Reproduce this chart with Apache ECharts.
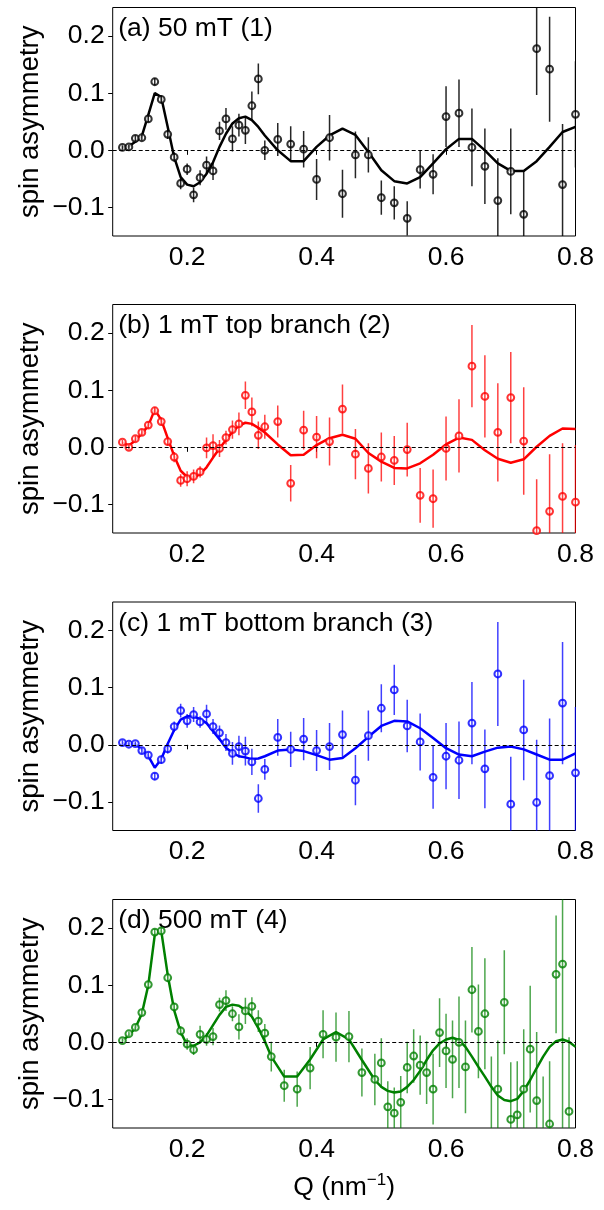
<!DOCTYPE html>
<html>
<head>
<meta charset="utf-8">
<script src="https://cdn.jsdelivr.net/npm/echarts@6/dist/echarts.min.js"></script>
<style>
  html, body { margin: 0; padding: 0; background: #fff; }
  #chart { width: 604px; height: 1210px; }
</style>
</head>
<body>
<div id="chart"></div>
<script>
// Q values (nm^-1) shared by panels a, b, c
const qABC = [0.10,0.11,0.12,0.13,0.14,0.15,0.16,0.17,0.18,0.19,0.20,0.21,0.22,0.23,0.24,0.25,0.26,0.27,0.28,0.29,0.30,0.31,0.32,
  0.34,0.36,0.38,0.40,0.42,0.44,0.46,0.48,0.50,0.52,0.54,0.56,0.58,0.60,0.62,0.64,0.66,0.68,0.70,0.72,0.74,0.76,0.78,0.80];

// (a) 50 mT
const asymA = [0.005,0.006,0.021,0.022,0.055,0.120,0.089,0.028,-0.012,-0.058,-0.033,-0.078,-0.048,-0.026,-0.036,0.034,0.055,0.020,0.044,0.035,0.078,0.125,0.000,
  0.019,0.011,0.002,-0.051,0.022,-0.076,-0.008,-0.008,-0.083,-0.092,-0.119,-0.034,-0.042,0.059,0.065,0.005,-0.028,-0.088,-0.037,-0.112,0.178,0.142,-0.060,0.063];
const errA = [0.004,0.004,0.005,0.005,0.006,0.006,0.007,0.008,0.008,0.010,0.010,0.013,0.013,0.015,0.016,0.016,0.019,0.022,0.020,0.024,0.025,0.027,0.017,
  0.029,0.031,0.032,0.036,0.040,0.042,0.041,0.031,0.030,0.029,0.030,0.033,0.035,0.053,0.059,0.068,0.066,0.074,0.075,0.077,0.081,0.092,0.106,0.093];
const fitA = [0.005,0.007,0.015,0.025,0.062,0.100,0.093,0.041,-0.012,-0.047,-0.060,-0.063,-0.056,-0.041,-0.021,0.006,0.029,0.047,0.056,0.059,0.053,0.041,0.026,
  0.000,-0.019,-0.019,0.006,0.026,0.038,0.027,-0.003,-0.035,-0.054,-0.058,-0.047,-0.023,0.002,0.020,0.020,0.000,-0.023,-0.036,-0.036,-0.019,0.006,0.032,0.041];

// (b) 1 mT top branch
const asymB = [0.009,0.000,0.015,0.026,0.039,0.064,0.045,0.010,-0.017,-0.058,-0.055,-0.051,-0.043,-0.001,0.003,-0.002,0.017,0.031,0.041,0.091,0.062,0.021,0.036,
  0.045,-0.063,0.030,0.018,0.010,0.067,-0.012,-0.037,-0.017,-0.023,-0.004,-0.084,-0.090,-0.002,0.020,0.142,0.089,0.026,0.087,0.011,-0.146,-0.112,-0.086,-0.096];
const errB = [0.004,0.004,0.005,0.005,0.006,0.006,0.007,0.007,0.009,0.011,0.013,0.012,0.010,0.018,0.020,0.015,0.012,0.016,0.020,0.024,0.025,0.024,0.021,
  0.028,0.032,0.034,0.037,0.042,0.043,0.044,0.044,0.043,0.043,0.047,0.048,0.051,0.056,0.064,0.072,0.072,0.086,0.080,0.094,0.090,0.100,0.093,0.100];
const fitB = [0.008,0.003,0.012,0.024,0.038,0.066,0.048,0.016,-0.015,-0.041,-0.052,-0.053,-0.047,-0.035,-0.018,-0.002,0.013,0.027,0.038,0.043,0.041,0.034,0.026,
  0.005,-0.014,-0.013,0.004,0.016,0.022,0.015,-0.010,-0.025,-0.036,-0.037,-0.028,-0.013,0.005,0.017,0.013,-0.005,-0.020,-0.027,-0.021,0.001,0.020,0.033,0.032];

// (c) 1 mT bottom branch
const asymC = [0.004,0.001,0.002,-0.010,-0.018,-0.055,-0.026,-0.007,0.032,0.060,0.042,0.053,0.040,0.054,0.032,0.021,0.004,-0.015,-0.003,-0.011,-0.030,-0.094,-0.043,
  0.013,-0.008,0.010,-0.010,-0.003,0.018,-0.062,0.016,0.064,0.096,0.033,0.005,-0.057,-0.020,-0.027,0.038,-0.042,0.124,-0.104,0.026,-0.101,-0.054,0.073,-0.049];
const errC = [0.004,0.004,0.004,0.005,0.005,0.006,0.007,0.008,0.009,0.012,0.012,0.013,0.010,0.016,0.013,0.013,0.015,0.020,0.019,0.025,0.023,0.025,0.018,
  0.032,0.031,0.037,0.036,0.041,0.042,0.044,0.044,0.042,0.044,0.046,0.050,0.055,0.058,0.068,0.072,0.069,0.091,0.083,0.088,0.110,0.100,0.107,0.115];
const fitC = [0.003,0.001,0.001,-0.008,-0.020,-0.040,-0.025,0.002,0.026,0.044,0.050,0.050,0.045,0.038,0.024,0.010,-0.005,-0.014,-0.020,-0.022,-0.025,-0.024,-0.020,
  -0.010,-0.008,-0.011,-0.018,-0.026,-0.023,-0.006,0.014,0.033,0.042,0.041,0.029,0.012,-0.006,-0.017,-0.020,-0.012,-0.005,-0.003,-0.008,-0.017,-0.026,-0.026,-0.015];

// (d) 500 mT
const qD = [0.10,0.11,0.12,0.13,0.14,0.15,0.16,0.17,0.18,0.19,0.20,0.21,0.22,0.23,0.24,0.25,0.26,0.27,0.28,0.29,0.30,0.31,0.32,0.33,
  0.35,0.37,0.39,0.41,0.43,0.45,0.47,0.49,
  0.50,0.51,0.52,0.53,0.54,0.55,0.56,0.57,0.58,0.59,0.60,0.61,0.62,0.63,0.64,0.65,0.66,0.67,0.68,0.69,0.70,0.71,0.72,0.73,0.74,0.75,0.76,0.77,0.78,0.79];
const asymD = [0.003,0.015,0.026,0.052,0.101,0.193,0.195,0.113,0.062,0.020,-0.003,-0.013,0.014,0.005,0.010,0.066,0.073,0.050,0.027,0.055,0.063,0.037,0.016,-0.025,
  -0.076,-0.082,-0.045,0.014,0.009,0.010,-0.053,-0.065,
  -0.036,-0.113,-0.124,-0.105,-0.044,-0.024,-0.040,-0.053,-0.082,0.017,-0.015,-0.030,0.000,-0.043,0.092,0.019,0.050,-0.170,-0.082,0.070,-0.135,-0.127,-0.082,-0.012,-0.102,-0.180,-0.143,0.119,0.137,-0.121];
const errD = [0.004,0.004,0.005,0.005,0.006,0.006,0.006,0.007,0.007,0.008,0.010,0.009,0.015,0.011,0.015,0.012,0.018,0.013,0.022,0.023,0.016,0.019,0.016,0.026,
  0.028,0.031,0.037,0.042,0.043,0.045,0.042,0.045,
  0.043,0.045,0.045,0.046,0.045,0.047,0.052,0.055,0.062,0.060,0.065,0.068,0.080,0.081,0.075,0.082,0.097,0.145,0.085,0.091,0.100,0.094,0.105,0.111,0.120,0.120,0.110,0.103,0.290,0.130];
const qFitD = qD.concat([0.80]);
const fitD = [0.003,0.012,0.025,0.050,0.100,0.188,0.195,0.118,0.056,0.018,-0.005,-0.006,0.000,0.012,0.030,0.048,0.062,0.066,0.064,0.056,0.045,0.025,0.002,-0.025,
  -0.060,-0.060,-0.030,0.005,0.018,0.005,-0.031,-0.066,
  -0.078,-0.085,-0.088,-0.086,-0.078,-0.066,-0.050,-0.031,-0.014,-0.002,0.005,0.008,0.004,-0.008,-0.025,-0.043,-0.060,-0.078,-0.093,-0.101,-0.103,-0.099,-0.085,-0.066,-0.045,-0.025,-0.008,0.002,0.005,0.001,
  -0.008];

const yTicks = [-0.1, 0, 0.1, 0.2];
const xTicks = [0.2, 0.4, 0.6, 0.8];

const panels = [
  { label: '(a) 50 mT (1)', q: qABC, y: asymA, err: errA, fq: qABC, fit: fitA, color: '#000000', bar: 'rgba(0,0,0,0.85)', top: 7.5 },
  { label: '(b) 1 mT top branch (2)', q: qABC, y: asymB, err: errB, fq: qABC, fit: fitB, color: '#ff0000', bar: 'rgba(255,0,0,0.75)', top: 304.5 },
  { label: '(c) 1 mT bottom branch (3)', q: qABC, y: asymC, err: errC, fq: qABC, fit: fitC, color: '#0000ff', bar: 'rgba(0,0,255,0.75)', top: 602 },
  { label: '(d) 500 mT (4)', q: qD, y: asymD, err: errD, fq: qFitD, fit: fitD, color: '#008000', bar: 'rgba(0,128,0,0.7)', top: 899.5 }
];

const FONT = 'Liberation Sans, Arial, sans-serif';
const FS = 26.5;
const GRID_LEFT = 112.7, GRID_RIGHT = 28.5, GRID_H = 228.5;

const chart = echarts.init(document.getElementById('chart'), null, { renderer: 'canvas' });

const grid = [], xAxis = [], yAxis = [], series = [], graphic = [];

panels.forEach(function (p, i) {
  const last = i === panels.length - 1;
  grid.push({
    left: GRID_LEFT, right: GRID_RIGHT, top: p.top, height: GRID_H,
    show: true, borderColor: '#000', borderWidth: 1, backgroundColor: 'transparent',
    outerBoundsMode: 'none'
  });
  xAxis.push({
    type: 'value', gridIndex: i, min: 0.085, max: 0.8,
    axisLine: { show: false },
    splitLine: { show: false },
    axisTick: { show: true, customValues: xTicks, length: 4.5, lineStyle: { color: '#000', width: 1 } },
    axisLabel: {
      customValues: xTicks, margin: 8, color: '#000', fontSize: FS, fontFamily: FONT,
      formatter: function (v) { return v.toFixed(1); }
    },
    name: last ? '{n|Q (nm}{s|\u22121}{n|)}' : '',
    nameLocation: 'middle', nameGap: 44, nameMoveOverlap: false,
    nameTextStyle: {
      color: '#000', fontFamily: FONT,
      rich: {
        n: { fontSize: FS, lineHeight: 32, fontFamily: FONT, color: '#000' },
        s: { fontSize: 17, lineHeight: 17, verticalAlign: 'top', fontFamily: FONT, color: '#000' }
      }
    }
  });
  yAxis.push({
    type: 'value', gridIndex: i, min: -0.15, max: 0.25,
    axisLine: { show: false },
    splitLine: { show: false },
    axisTick: { show: true, customValues: yTicks, length: 4.5, lineStyle: { color: '#000', width: 1 } },
    axisLabel: {
      customValues: yTicks, margin: 8, color: '#000', fontSize: FS, fontFamily: FONT,
      formatter: function (v) { return v.toFixed(1).replace('-', '\u2212'); }
    },
    name: 'spin asymmetry', nameLocation: 'middle', nameRotate: 90, nameGap: 68,
    nameMoveOverlap: false,
    nameTextStyle: { color: '#000', fontSize: FS + 1, fontFamily: FONT }
  });

  // fit curve + dashed zero line
  series.push({
    type: 'line', xAxisIndex: i, yAxisIndex: i,
    data: p.fq.map(function (q, k) { return [q, p.fit[k]]; }),
    showSymbol: false, symbol: 'none', clip: true, z: 2,
    lineStyle: { color: p.color, width: 2.5 },
    markLine: {
      silent: true, symbol: ['none', 'none'], label: { show: false },
      lineStyle: { color: '#000', type: [4, 2.5], width: 1 },
      data: [{ yAxis: 0 }]
    }
  });
  // open circle markers
  series.push({
    type: 'scatter', xAxisIndex: i, yAxisIndex: i, clip: true, z: 3,
    symbol: 'emptyCircle', symbolSize: 6.8,
    itemStyle: { color: p.color, borderColor: p.color, borderWidth: 2 },
    data: p.q.map(function (q, k) { return [q, p.y[k]]; })
  });
  // error bars (drawn over markers like the original)
  series.push({
    type: 'custom', xAxisIndex: i, yAxisIndex: i, clip: true, z: 4,
    data: p.q.map(function (q, k) { return [q, p.y[k] - p.err[k], p.y[k] + p.err[k]]; }),
    encode: { x: 0, y: [1, 2] },
    renderItem: (function (col) {
      return function (params, api) {
        const a = api.coord([api.value(0), api.value(1)]);
        const b = api.coord([api.value(0), api.value(2)]);
        return {
          type: 'line',
          shape: { x1: a[0], y1: a[1], x2: b[0], y2: b[1] },
          style: { stroke: col, lineWidth: 1.5 }
        };
      };
    })(p.bar)
  });

  graphic.push({
    type: 'text', left: GRID_LEFT + 5.5, top: p.top + 8,
    style: { text: p.label, fill: '#000', font: FS + 'px ' + FONT }
  });
});

chart.setOption({
  animation: false,
  backgroundColor: '#fff',
  grid: grid,
  xAxis: xAxis,
  yAxis: yAxis,
  series: series,
  graphic: graphic
});
</script>
</body>
</html>
